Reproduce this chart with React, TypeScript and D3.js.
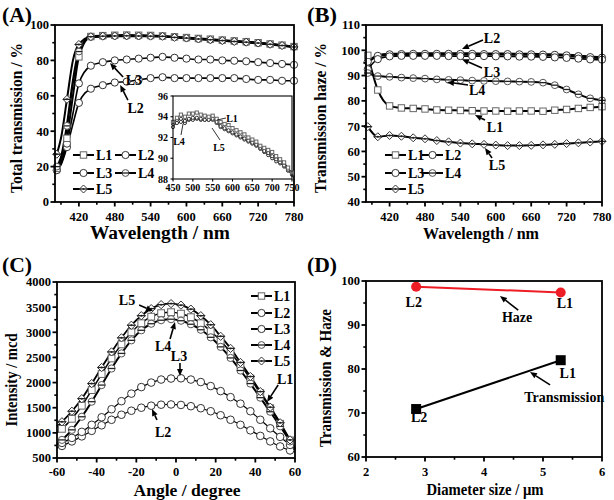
import React from 'react';
import * as d3 from 'd3';

const SERIF = 'Liberation Serif, Times New Roman, DejaVu Serif, serif';

// ---------------- Panel A: total transmission ----------------
const wlA = [383, 390, 400, 410, 420, 440, 460, 480, 500, 520, 540, 560, 580, 600, 620, 640, 660, 680, 700, 720, 740, 760, 780];
const markA = [true, false, true, false, true, true, true, true, true, true, true, true, true, true, true, true, true, true, true, true, true, true, true];
const tA_L1 = [19, 22, 36, 60, 82, 93.5, 94.0, 94.2, 94.3, 94.2, 94.1, 93.8, 93.3, 92.9, 92.4, 92.0, 91.5, 91.0, 90.6, 90.0, 89.3, 88.6, 87.8];
const tA_L2 = [18, 21, 31, 44, 56, 64, 66, 67.5, 68, 69, 70, 70.5, 70, 70, 70, 70, 70, 70, 69.5, 69, 69, 68.5, 68.5];
const tA_L3 = [18, 22, 33, 50, 67, 77, 79, 80, 80.5, 81, 81.5, 82, 81.5, 81, 80.5, 80.5, 80, 79.8, 79.5, 79, 78.5, 78, 77.5];
const tA_L4 = [20, 25, 43, 68, 85, 93.2, 93.6, 93.8, 93.8, 93.7, 93.7, 93.6, 93.1, 92.6, 92.1, 91.6, 91.2, 90.7, 90.2, 89.7, 89.1, 88.4, 87.6];
const tA_L5 = [27, 36, 58, 80, 89, 93.4, 93.7, 93.8, 93.9, 93.8, 93.7, 93.6, 93.0, 92.6, 92.1, 91.7, 91.2, 90.7, 90.3, 89.8, 89.1, 88.4, 87.6];
const xTicksA = [420, 480, 540, 600, 660, 720, 780];
const xMinorA = [390, 450, 510, 570, 630, 690, 750];
const yTicksA = [0, 20, 40, 60, 80, 100];
const yMinorA = [10, 30, 50, 70, 90];

// inset of panel A
const wlIn = [450, 460, 470, 480, 490, 500, 510, 520, 530, 540, 550, 560, 570, 580, 590, 600, 610, 620, 630, 640, 650, 660, 670, 680, 690, 700, 710, 720, 730, 740, 750];
const in_L1 = [93.5, 93.9, 94.2, 94.0, 94.3, 94.3, 94.4, 94.2, 94.1, 94.0, 94.1, 93.8, 93.5, 93.3, 93.2, 92.9, 92.7, 92.5, 92.3, 92.0, 91.8, 91.6, 91.2, 91.0, 90.8, 90.6, 90.2, 89.9, 89.6, 89.1, 88.6];
const in_L4 = [93.0, 93.4, 93.5, 93.4, 93.7, 93.7, 93.8, 93.7, 93.7, 93.7, 93.7, 93.4, 93.0, 92.8, 92.6, 92.4, 92.2, 92.0, 91.8, 91.6, 91.4, 91.2, 90.9, 90.6, 90.3, 90.0, 89.7, 89.5, 89.2, 88.8, 88.4];
const in_L5 = [93.3, 93.7, 93.8, 93.6, 93.8, 93.9, 93.9, 93.8, 93.7, 93.7, 93.8, 93.5, 93.1, 92.9, 92.7, 92.5, 92.3, 92.1, 91.9, 91.7, 91.5, 91.3, 91.0, 90.7, 90.5, 90.2, 89.9, 89.6, 89.3, 88.9, 88.5];
const xTicksIn = [450, 500, 550, 600, 650, 700, 750];
const yTicksIn = [88, 90, 92, 94, 96];

// ---------------- Panel B: transmission haze ----------------
const wlB = [383, 400, 420, 440, 460, 480, 500, 520, 540, 560, 580, 600, 620, 640, 660, 680, 700, 720, 740, 760, 780];
const hB_L1 = [98, 84.3, 78, 77.2, 77.0, 76.8, 76.4, 76.3, 76.2, 76.1, 76.0, 76.0, 75.9, 76.0, 76.0, 75.9, 76.3, 76.6, 77.0, 77.4, 77.7];
const hB_L2 = [95.5, 97.8, 98.4, 98.5, 98.6, 98.6, 98.6, 98.6, 98.6, 98.6, 98.5, 98.5, 98.5, 98.4, 98.4, 98.3, 98.2, 98.0, 97.7, 97.3, 97.1];
const hB_L3 = [92.5, 96.5, 97.6, 97.8, 97.8, 97.8, 97.8, 97.7, 97.7, 97.7, 97.7, 97.6, 97.6, 97.5, 97.5, 97.4, 97.2, 97.0, 96.7, 96.4, 96.3];
const hB_L4 = [91, 89.8, 89.5, 89.2, 89.0, 88.8, 88.5, 88.3, 88.2, 88.0, 87.9, 87.8, 87.7, 87.6, 87.5, 87.2, 86.2, 84.5, 82.6, 81.0, 80.2];
const hB_L5 = [69.8, 65.8, 66.3, 66.0, 65.4, 65.0, 64.3, 63.8, 63.3, 63.0, 62.8, 62.5, 62.3, 62.3, 62.4, 62.6, 62.8, 63.1, 63.4, 63.7, 64.0];
const yTicksB = [40, 50, 60, 70, 80, 90, 100, 110];
const yMinorB = [45, 55, 65, 75, 85, 95, 105];

// ---------------- Panel C: angular intensity ----------------
const angC = [-60, -57.5, -52.5, -47.5, -42.5, -37.5, -32.5, -27.5, -22.5, -17.5, -12.5, -7.5, -2.5, 2.5, 7.5, 12.5, 17.5, 22.5, 27.5, 32.5, 37.5, 42.5, 47.5, 52.5, 57.5, 60];
const iC_L1 = [1000, 1080, 1280, 1540, 1850, 2170, 2480, 2760, 3000, 3180, 3310, 3380, 3400, 3370, 3300, 3180, 3020, 2830, 2600, 2350, 2080, 1790, 1490, 1180, 850, 680];
const iC_L2 = [700, 740, 830, 930, 1040, 1150, 1260, 1360, 1440, 1500, 1540, 1560, 1565, 1555, 1530, 1490, 1430, 1350, 1260, 1160, 1050, 940, 830, 730, 650, 620];
const iC_L3 = [760, 800, 900, 1020, 1160, 1310, 1470, 1630, 1780, 1910, 2000, 2060, 2080, 2085, 2060, 2010, 1930, 1830, 1710, 1580, 1430, 1260, 1090, 920, 760, 660];
const iC_L4 = [780, 860, 1060, 1320, 1620, 1950, 2280, 2580, 2840, 3040, 3170, 3240, 3260, 3230, 3160, 3050, 2900, 2710, 2490, 2240, 1980, 1700, 1420, 1130, 830, 670];
const iC_L5 = [1130, 1220, 1430, 1680, 1980, 2300, 2610, 2890, 3140, 3330, 3470, 3550, 3570, 3540, 3460, 3330, 3150, 2920, 2680, 2400, 2120, 1820, 1510, 1200, 860, 700];
const xTicksC = [-60, -40, -20, 0, 20, 40, 60];
const xMinorC = [-50, -30, -10, 10, 30, 50];
const yTicksC = [500, 1000, 1500, 2000, 2500, 3000, 3500, 4000];
const yMinorC = [750, 1250, 1750, 2250, 2750, 3250, 3750];

// ---------------- Panel D: diameter ----------------
const diamD = [2.85, 5.3];
const hazeD = [98.7, 97.4];
const transD = [70.9, 82.0];
const labelsD = ['L2', 'L1'];
const xTicksD = [2, 3, 4, 5, 6];
const xMinorD = [2.5, 3.5, 4.5, 5.5];
const yTicksD = [60, 70, 80, 90, 100];
const yMinorD = [65, 75, 85, 95];

type S = d3.ScaleLinear<number, number>;
type Shape = 'square' | 'circle' | 'circleBar' | 'diamond';

const TS: React.CSSProperties = { fontFamily: SERIF, fontWeight: 'bold' };

function Marker({ shape, cx, cy, r, stroke = '#333' }: { shape: Shape; cx: number; cy: number; r: number; stroke?: string }) {
  if (shape === 'square')
    return <rect x={cx - r} y={cy - r} width={2 * r} height={2 * r} fill="white" stroke="#666" strokeWidth={1} />;
  if (shape === 'circle') return <circle cx={cx} cy={cy} r={r} fill="white" stroke={stroke} strokeWidth={1} />;
  if (shape === 'circleBar')
    return (
      <g>
        <circle cx={cx} cy={cy} r={r} fill="white" stroke="#555" strokeWidth={1} />
        <line x1={cx - r} x2={cx + r} y1={cy} y2={cy} stroke="#222" strokeWidth={1.3} />
      </g>
    );
  const k = r * 1.25;
  return (
    <g>
      <path d={`M${cx},${cy - k}L${cx + k},${cy}L${cx},${cy + k}L${cx - k},${cy}Z`} fill="white" stroke="#333" strokeWidth={1} />
      <line x1={cx - k} x2={cx + k} y1={cy} y2={cy} stroke="#222" strokeWidth={1.3} />
      <circle cx={cx} cy={cy} r={1} fill="#222" />
    </g>
  );
}

function Frame({ x, y, xt, xm, yt, ym, fs, tl, lw = 1.8, xLabY, yLabX }: {
  x: S; y: S; xt: number[]; xm: number[]; yt: number[]; ym: number[]; fs: number; tl: number; lw?: number; xLabY: number; yLabX: number;
}) {
  const [x0, x1] = x.range();
  const [y0, y1] = y.range();
  return (
    <g>
      <rect x={x0} y={y1} width={x1 - x0} height={y0 - y1} fill="none" stroke="#000" strokeWidth={lw} />
      {xt.map((t) => (
        <g key={'xt' + t}>
          <line x1={x(t)} x2={x(t)} y1={y0} y2={y0 + tl} stroke="#000" strokeWidth={lw} />
          <text x={x(t)} y={xLabY} textAnchor="middle" fontSize={fs} style={TS}>{t}</text>
        </g>
      ))}
      {xm.map((t) => <line key={'xm' + t} x1={x(t)} x2={x(t)} y1={y0} y2={y0 + tl * 0.6} stroke="#000" strokeWidth={lw * 0.9} />)}
      {yt.map((t) => (
        <g key={'yt' + t}>
          <line x1={x0} x2={x0 - tl} y1={y(t)} y2={y(t)} stroke="#000" strokeWidth={lw} />
          <text x={yLabX} y={y(t)} dy="0.35em" textAnchor="end" fontSize={fs} style={TS}>{t}</text>
        </g>
      ))}
      {ym.map((t) => <line key={'ym' + t} x1={x0} x2={x0 - tl * 0.6} y1={y(t)} y2={y(t)} stroke="#000" strokeWidth={lw * 0.9} />)}
    </g>
  );
}

function Series({ xs, ys, x, y, shape, lw, r, marks, curve = d3.curveMonotoneX, stroke = '#000' }: {
  xs: number[]; ys: number[]; x: S; y: S; shape: Shape; lw: number; r: number; marks?: boolean[]; curve?: any; stroke?: string;
}) {
  const pts = xs.map((v, i) => [v, ys[i]] as [number, number]);
  const line = d3.line<[number, number]>().x((d) => x(d[0])).y((d) => y(d[1])).curve(curve);
  return { pts, line, shape, lw, r, marks, stroke, x, y } as any;
}

function Plot({ series }: { series: any[] }) {
  return (
    <g>
      {series.map((s, i) => <path key={'l' + i} d={s.line(s.pts)} fill="none" stroke={s.stroke} strokeWidth={s.lw} strokeLinejoin="round" />)}
      {series.map((s, i) => (
        <g key={'m' + i}>
          {s.pts.map((p: [number, number], j: number) =>
            !s.marks || s.marks[j] ? <Marker key={j} shape={s.shape} cx={s.x(p[0])} cy={s.y(p[1])} r={s.r} /> : null
          )}
        </g>
      ))}
    </g>
  );
}

function Arrow({ x1, y1, x2, y2, w = 1.6, head = 7 }: { x1: number; y1: number; x2: number; y2: number; w?: number; head?: number }) {
  const a = Math.atan2(y2 - y1, x2 - x1);
  const bx = x2 - head * Math.cos(a), by = y2 - head * Math.sin(a);
  const px = -Math.sin(a) * head * 0.42, py = Math.cos(a) * head * 0.42;
  return (
    <g>
      <line x1={x1} y1={y1} x2={bx} y2={by} stroke="#000" strokeWidth={w} />
      <path d={`M${x2},${y2}L${bx + px},${by + py}L${bx - px},${by - py}Z`} fill="#000" />
    </g>
  );
}

function Label({ x, y, t, fs = 14, anchor = 'middle' }: { x: number; y: number; t: string; fs?: number; anchor?: string }) {
  return <text x={x} y={y} dy="0.35em" textAnchor={anchor as any} fontSize={fs} style={TS}>{t}</text>;
}

function Title({ x, y, t, len, fs = 16, rot = false }: { x: number; y: number; t: string; len: number; fs?: number; rot?: boolean }) {
  return (
    <text transform={`translate(${x},${y})${rot ? ' rotate(-90)' : ''}`} textAnchor="middle" dy="0.35em" fontSize={fs}
      textLength={len} lengthAdjust="spacingAndGlyphs" style={TS}>{t}</text>
  );
}

function LegendItem({ x, y, shape, t, lw, r }: { x: number; y: number; shape: Shape; t: string; lw: number; r: number }) {
  return (
    <g>
      <line x1={x} x2={x + 21} y1={y} y2={y} stroke="#000" strokeWidth={lw} />
      <Marker shape={shape} cx={x + 10.5} cy={y} r={r} />
      <Label x={x + 23} y={y} t={t} fs={14} anchor="start" />
    </g>
  );
}

export default function App() {
  // Panel A
  const xA = d3.scaleLinear().domain([380, 780]).range([55, 294]);
  const yA = d3.scaleLinear().domain([0, 100]).range([202, 25]);
  const seriesA = [
    Series({ xs: wlA, ys: tA_L2, x: xA, y: yA, shape: 'circle', lw: 1.6, r: 3.6, marks: markA }),
    Series({ xs: wlA, ys: tA_L3, x: xA, y: yA, shape: 'circle', lw: 1.6, r: 3.6, marks: markA }),
    Series({ xs: wlA, ys: tA_L1, x: xA, y: yA, shape: 'square', lw: 2, r: 3.2, marks: markA }),
    Series({ xs: wlA, ys: tA_L4, x: xA, y: yA, shape: 'circleBar', lw: 2.4, r: 3.4, marks: markA }),
    Series({ xs: wlA, ys: tA_L5, x: xA, y: yA, shape: 'diamond', lw: 2, r: 3.2, marks: markA }),
  ];
  const xIn = d3.scaleLinear().domain([450, 750]).range([173, 292]);
  const yIn = d3.scaleLinear().domain([88, 96]).range([179, 96]);
  const seriesIn = [
    Series({ xs: wlIn, ys: in_L4, x: xIn, y: yIn, shape: 'circle', lw: 1, r: 1.6 }),
    Series({ xs: wlIn, ys: in_L5, x: xIn, y: yIn, shape: 'circle', lw: 1, r: 1.6 }),
    Series({ xs: wlIn, ys: in_L1, x: xIn, y: yIn, shape: 'square', lw: 1, r: 1.6 }),
  ];

  // Panel B
  const xB = d3.scaleLinear().domain([380, 780]).range([366, 602]);
  const yB = d3.scaleLinear().domain([40, 110]).range([202, 25]);
  const seriesB = [
    Series({ xs: wlB, ys: hB_L2, x: xB, y: yB, shape: 'circle', lw: 3, r: 3.6 }),
    Series({ xs: wlB, ys: hB_L3, x: xB, y: yB, shape: 'circle', lw: 1.6, r: 3.6 }),
    Series({ xs: wlB, ys: hB_L1, x: xB, y: yB, shape: 'square', lw: 2, r: 3.2 }),
    Series({ xs: wlB, ys: hB_L4, x: xB, y: yB, shape: 'circleBar', lw: 2, r: 3.4 }),
    Series({ xs: wlB, ys: hB_L5, x: xB, y: yB, shape: 'diamond', lw: 2, r: 3.2 }),
  ];

  // Panel C
  const xC = d3.scaleLinear().domain([-60, 60]).range([57, 295]);
  const yC = d3.scaleLinear().domain([500, 4000]).range([458, 282]);
  const markC = angC.map((_, i) => i > 0 && i < angC.length - 1);
  const seriesC = [
    Series({ xs: angC, ys: iC_L2, x: xC, y: yC, shape: 'circle', lw: 1.2, r: 3.8, marks: markC }),
    Series({ xs: angC, ys: iC_L3, x: xC, y: yC, shape: 'circle', lw: 1.2, r: 3.8, marks: markC }),
    Series({ xs: angC, ys: iC_L1, x: xC, y: yC, shape: 'square', lw: 1.5, r: 3.4, marks: markC }),
    Series({ xs: angC, ys: iC_L4, x: xC, y: yC, shape: 'circleBar', lw: 2, r: 3.6, marks: markC }),
    Series({ xs: angC, ys: iC_L5, x: xC, y: yC, shape: 'diamond', lw: 1.8, r: 3.3, marks: markC }),
  ];

  // Panel D
  const xD = d3.scaleLinear().domain([2, 6]).range([366, 602]);
  const yD = d3.scaleLinear().domain([60, 100]).range([457, 281]);
  const lineD = d3.line<number>().x((_, i) => xD(diamD[i]));

  return (
    <svg width={614} height={500} style={{ position: 'absolute', left: 0, top: 0, background: '#fff' }}>
      {/* Panel A */}
      <text x={2} y={22} fontSize={21} textLength={30} lengthAdjust="spacingAndGlyphs" style={TS}>(A)</text>
      <Plot series={seriesA} />
      <Frame x={xA} y={yA} xt={xTicksA} xm={xMinorA} yt={yTicksA} ym={yMinorA} fs={12.5} tl={4.5} xLabY={221} yLabX={49} />
      <Title x={16} y={118} t="Total transmission / %" len={150} rot />
      <Title x={160} y={233} t="Wavelength / nm" len={140} fs={18} />
      <rect x={173} y={96} width={119} height={83} fill="white" />
      <Plot series={seriesIn} />
      <Frame x={xIn} y={yIn} xt={xTicksIn} xm={[]} yt={yTicksIn} ym={[]} fs={10} tl={2.5} lw={1.1} xLabY={191} yLabX={168} />
      <Label x={232} y={118} t="L1" fs={10} />
      <line x1={217} y1={120} x2={226} y2={118} stroke="#000" strokeWidth={0.8} />
      <Label x={179} y={141} t="L4" fs={10} />
      <line x1={181} y1={135} x2={183} y2={124} stroke="#000" strokeWidth={0.8} />
      <Label x={219} y={147} t="L5" fs={10} />
      <line x1={220} y1={140} x2={212} y2={128} stroke="#000" strokeWidth={0.8} />
      <Label x={xA(512)} y={yA(68.9)} t="L3" />
      <Arrow x1={xA(494)} y1={yA(70.6)} x2={xA(472)} y2={yA(78.5)} />
      <Label x={xA(515)} y={yA(53.1)} t="L2" />
      <Arrow x1={xA(502)} y1={yA(57.6)} x2={xA(489)} y2={yA(66.1)} />
      <LegendItem x={73} y={155} shape="square" t="L1" lw={2} r={3.2} />
      <LegendItem x={115} y={155} shape="circle" t="L2" lw={2} r={3.6} />
      <LegendItem x={73} y={173} shape="circle" t="L3" lw={2} r={3.6} />
      <LegendItem x={115} y={173} shape="circleBar" t="L4" lw={2} r={3.4} />
      <LegendItem x={73} y={189} shape="diamond" t="L5" lw={2} r={3.2} />

      {/* Panel B */}
      <text x={307} y={22} fontSize={21} textLength={30} lengthAdjust="spacingAndGlyphs" style={TS}>(B)</text>
      <Plot series={seriesB} />
      <Frame x={xB} y={yB} xt={xTicksA} xm={xMinorA} yt={yTicksB} ym={yMinorB} fs={12.5} tl={4.5} xLabY={221} yLabX={360} />
      <Title x={320} y={118} t="Transmission haze / %" len={150} rot />
      <Title x={481} y={233} t="Wavelength / nm" len={116} />
      <Label x={xB(593.6)} y={yB(105)} t="L2" />
      <Arrow x1={xB(578.3)} y1={yB(104.1)} x2={xB(542.7)} y2={yB(100.5)} />
      <Label x={xB(593.6)} y={yB(91.4)} t="L3" />
      <Arrow x1={xB(576.6)} y1={yB(93)} x2={xB(542.7)} y2={yB(96.5)} />
      <Label x={xB(568.3)} y={yB(84.3)} t="L4" />
      <Arrow x1={xB(552.9)} y1={yB(86.3)} x2={xB(517.3)} y2={yB(87.4)} />
      <Label x={xB(598.6)} y={yB(69.7)} t="L1" />
      <Arrow x1={xB(581.7)} y1={yB(72.4)} x2={xB(564.7)} y2={yB(74.4)} />
      <Label x={xB(602)} y={yB(54.6)} t="L5" />
      <Arrow x1={xB(593.6)} y1={yB(57.4)} x2={xB(581.7)} y2={yB(61.4)} />
      <LegendItem x={385} y={155} shape="square" t="L1" lw={2} r={3.2} />
      <LegendItem x={422} y={155} shape="circle" t="L2" lw={2} r={3.6} />
      <LegendItem x={385} y={173} shape="circle" t="L3" lw={2} r={3.6} />
      <LegendItem x={422} y={173} shape="circleBar" t="L4" lw={2} r={3.4} />
      <LegendItem x={385} y={189} shape="diamond" t="L5" lw={2} r={3.2} />

      {/* Panel C */}
      <text x={2} y={272} fontSize={21} textLength={30} lengthAdjust="spacingAndGlyphs" style={TS}>(C)</text>
      <Plot series={seriesC} />
      <Frame x={xC} y={yC} xt={xTicksC} xm={xMinorC} yt={yTicksC} ym={yMinorC} fs={12.5} tl={4.5} xLabY={476} yLabX={51} />
      <Title x={11} y={380} t="Intensity / mcd" len={93} rot />
      <Title x={187} y={490} t="Angle / degree" len={107} />
      <Label x={xC(-24.7)} y={yC(3641)} t="L5" />
      <Arrow x1={xC(-18.6)} y1={yC(3542)} x2={xC(-11.6)} y2={yC(3422)} />
      <Label x={xC(-6.5)} y={yC(2727)} t="L4" />
      <Arrow x1={xC(-3)} y1={yC(2866)} x2={xC(-0.5)} y2={yC(3204)} />
      <Label x={xC(1.5)} y={yC(2528)} t="L3" />
      <Arrow x1={xC(2)} y1={yC(2390)} x2={xC(2)} y2={yC(2130)} />
      <Label x={xC(-6.5)} y={yC(1017)} t="L2" />
      <Arrow x1={xC(-9.6)} y1={yC(1255)} x2={xC(-12.1)} y2={yC(1474)} />
      <Label x={xC(55)} y={yC(2070)} t="L1" />
      <Arrow x1={xC(51.5)} y1={yC(1951)} x2={xC(45.9)} y2={yC(1613)} />
      <LegendItem x={251} y={296} shape="square" t="L1" lw={2} r={3.2} />
      <LegendItem x={251} y={313} shape="circle" t="L2" lw={2} r={3.6} />
      <LegendItem x={251} y={329} shape="circle" t="L3" lw={2} r={3.6} />
      <LegendItem x={251} y={345} shape="circleBar" t="L4" lw={2} r={3.4} />
      <LegendItem x={251} y={361} shape="diamond" t="L5" lw={2} r={3.2} />

      {/* Panel D */}
      <text x={307} y={272} fontSize={21} textLength={30} lengthAdjust="spacingAndGlyphs" style={TS}>(D)</text>
      <path d={lineD.y((v) => yD(v))(hazeD) || ''} fill="none" stroke="#ee1c24" strokeWidth={2} />
      <path d={lineD.y((v) => yD(v))(transD) || ''} fill="none" stroke="#000" strokeWidth={2} />
      {diamD.map((d, i) => (
        <g key={'d' + i}>
          <circle cx={xD(d)} cy={yD(hazeD[i])} r={5} fill="#ee1c24" />
          <rect x={xD(d) - 5} y={yD(transD[i]) - 5} width={10} height={10} fill="#000" />
        </g>
      ))}
      <Frame x={xD} y={yD} xt={xTicksD} xm={xMinorD} yt={yTicksD} ym={yMinorD} fs={12.5} tl={4.5} xLabY={476} yLabX={360} />
      <Title x={325} y={378} t="Transmission & Haze" len={138} rot />
      <Title x={485} y={489} t="Diameter size / μm" len={117} />
      <Label x={xD(2.81)} y={yD(95.2)} t={labelsD[0]} />
      <Label x={xD(5.37)} y={yD(95.0)} t={labelsD[1]} />
      <Label x={xD(4.56)} y={yD(91.8)} t="Haze" />
      <Arrow x1={xD(4.58)} y1={yD(93.4)} x2={xD(4.27)} y2={yD(96.6)} />
      <Label x={xD(5.42)} y={yD(79.1)} t={labelsD[1]} />
      <Label x={xD(5.36)} y={yD(73.6)} t="Transmission" />
      <Arrow x1={xD(5.12)} y1={yD(76.4)} x2={xD(4.78)} y2={yD(79.3)} />
      <Label x={xD(2.9)} y={yD(69.1)} t={labelsD[0]} />
    </svg>
  );
}
